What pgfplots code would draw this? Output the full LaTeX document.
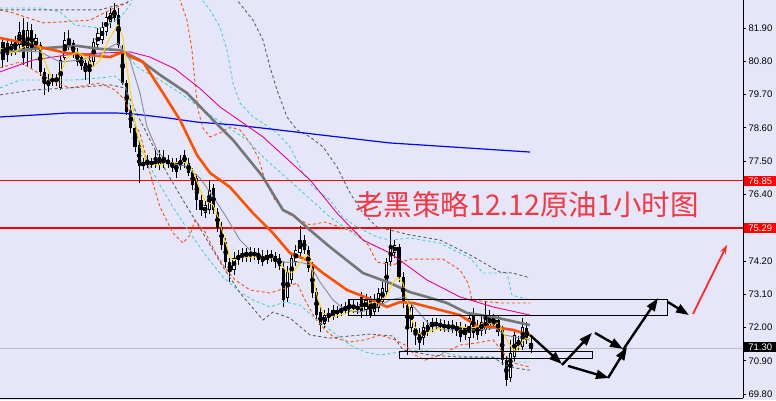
\documentclass[border=0pt]{standalone}
\usepackage{fontspec}
\setmainfont{Liberation Sans}
\newfontfamily\cjk{Noto Sans CJK SC}
\usepackage{pgfplots}
\pgfplotsset{compat=1.18}
\usepackage{pgfplotstable}
\usetikzlibrary{arrows.meta}
\definecolor{bg}{RGB}{230,230,250}
\definecolor{maorange}{RGB}{255,80,0}
\definecolor{magray}{RGB}{118,118,118}
\definecolor{mathin}{RGB}{128,140,150}
\definecolor{cyand}{RGB}{72,209,204}
\definecolor{grayd}{RGB}{95,95,95}
\definecolor{yel}{RGB}{255,215,0}
\definecolor{titlered}{RGB}{245,55,65}
\definecolor{curline}{RGB}{190,190,190}

\pgfplotstableread{
i o h l c w
0 81.44 81.57 80.58 80.84 0
1 81.40 81.50 80.78 81.01 0
2 81.11 81.50 80.97 81.37 1
3 81.50 81.64 81.01 81.17 0
4 81.34 82.10 81.17 81.77 1
5 81.83 82.23 80.68 80.91 0
6 81.24 82.10 80.64 81.83 1
7 81.83 82.03 80.58 81.17 0
8 81.24 81.70 81.11 81.57 1
9 81.34 81.44 80.31 80.45 0
10 80.45 80.58 79.69 80.05 0
11 79.98 80.38 79.78 80.18 1
12 80.12 80.38 79.98 80.25 1
13 80.25 80.38 79.98 80.15 0
14 79.92 80.97 79.85 80.84 1
15 80.91 81.77 80.84 81.50 1
16 81.50 81.83 81.17 81.31 0
17 81.40 81.50 80.91 81.04 0
18 81.11 81.24 80.64 80.78 0
19 80.94 81.04 80.51 80.64 0
20 80.74 80.84 80.18 80.45 0
21 80.45 80.97 80.05 80.84 1
22 80.78 81.57 80.64 81.44 1
23 81.34 81.90 81.17 81.73 1
24 81.50 82.10 81.37 81.93 1
25 81.77 82.43 81.64 82.26 1
26 82.10 82.56 81.90 82.40 1
27 82.50 82.73 82.10 82.23 0
28 82.33 82.56 81.24 81.34 0
29 81.17 81.34 80.02 80.08 0
30 80.08 80.18 79.02 79.12 0
31 79.19 79.36 78.43 78.59 0
32 78.59 78.69 77.80 77.97 0
33 78.03 78.20 76.78 77.34 0
34 77.34 77.60 77.20 77.47 1
35 77.54 77.70 77.27 77.37 0
36 77.37 77.60 77.27 77.50 1
37 77.54 77.87 77.27 77.40 0
38 77.37 77.87 77.20 77.64 1
39 77.60 77.87 77.27 77.44 0
40 77.40 77.70 77.27 77.54 1
41 77.47 77.60 77.14 77.27 0
42 77.44 77.60 76.94 77.14 0
43 77.34 77.70 77.20 77.54 1
44 77.70 77.87 77.27 77.44 0
45 77.44 77.60 77.01 77.11 0
46 77.14 77.27 76.54 76.71 0
47 76.94 77.07 75.88 76.21 0
48 76.21 76.38 75.69 75.88 0
49 75.78 76.21 75.62 76.05 1
50 75.88 76.88 75.75 76.54 1
51 76.61 76.74 75.75 75.88 0
52 75.82 75.95 75.16 75.29 0
53 75.32 75.49 74.56 74.73 0
54 74.83 74.96 73.97 74.16 0
55 74.16 74.30 73.50 73.83 0
56 73.90 74.50 73.73 74.30 1
57 74.23 74.56 74.07 74.40 1
58 74.30 74.63 74.16 74.46 1
59 74.50 74.63 74.16 74.36 0
60 74.36 74.66 74.16 74.50 1
61 74.50 74.63 74.23 74.36 0
62 74.46 74.63 74.10 74.23 0
63 74.36 74.56 74.03 74.16 0
64 74.23 74.56 74.10 74.40 1
65 74.43 74.56 74.16 74.30 0
66 74.36 74.50 73.97 74.16 0
67 74.30 74.43 73.90 74.03 0
68 73.97 74.16 72.68 72.91 0
69 72.97 74.03 72.84 73.83 1
70 73.57 74.43 73.44 74.30 1
71 74.16 74.73 74.03 74.56 1
72 74.46 75.36 74.30 74.89 1
73 74.89 75.06 74.43 74.56 0
74 74.56 74.69 73.83 73.97 0
75 74.00 74.16 72.97 73.14 0
76 73.17 73.30 72.25 72.41 0
77 72.51 72.71 71.85 72.08 0
78 72.11 72.58 71.98 72.41 1
79 72.31 72.64 72.18 72.48 1
80 72.35 72.74 72.25 72.58 1
81 72.58 72.71 72.31 72.45 0
82 72.48 72.78 72.38 72.64 1
83 72.54 72.84 72.45 72.71 1
84 72.61 72.91 72.51 72.74 1
85 72.74 72.91 72.48 72.61 0
86 72.71 72.84 72.45 72.58 0
87 73.01 73.17 72.31 72.51 0
88 72.58 73.11 72.41 72.91 1
89 72.91 73.04 72.31 72.41 0
90 72.51 73.11 72.38 72.84 1
91 72.64 73.30 72.51 73.14 1
92 72.84 73.50 72.71 73.30 1
93 73.17 74.30 73.04 74.16 1
94 74.16 75.29 74.03 74.69 1
95 74.46 74.89 74.30 74.73 1
96 74.66 74.76 73.50 73.67 0
97 73.67 73.83 72.64 72.81 0
98 72.74 72.91 71.09 71.98 0
99 71.98 72.84 71.85 72.68 1
100 71.98 72.18 71.42 71.78 0
101 71.82 71.98 71.26 71.49 0
102 71.65 72.18 71.42 72.02 1
103 71.85 72.25 71.72 72.08 1
104 72.02 72.31 71.85 72.18 1
105 72.18 72.31 71.92 72.05 0
106 72.15 72.28 71.88 72.02 0
107 72.11 72.25 71.85 71.98 0
108 72.08 72.21 71.85 71.98 0
109 71.95 72.25 71.82 72.08 1
110 72.05 72.18 71.72 71.92 0
111 72.02 72.18 71.52 71.69 0
112 71.75 72.11 71.59 71.98 1
113 71.65 72.45 71.32 72.31 1
114 72.48 72.64 71.65 71.82 0
115 72.08 72.25 71.59 71.75 0
116 71.88 72.38 71.72 72.18 1
117 71.92 72.84 71.78 72.31 1
118 72.02 72.58 71.92 72.41 1
119 72.31 72.45 71.98 72.08 0
120 72.25 72.38 71.72 71.85 0
121 71.92 72.05 70.76 70.92 0
122 70.92 71.06 70.07 70.26 0
123 70.33 71.59 70.20 71.16 1
124 71.02 71.92 70.86 71.75 1
125 71.39 71.72 71.26 71.59 1
126 71.35 72.31 71.26 72.02 1
127 71.98 72.18 71.45 71.59 0
128 71.49 71.65 71.16 71.30 0
}\candles

\begin{document}
\begin{tikzpicture}
\useasboundingbox (0,0) rectangle (776pt,400pt);
\fill[bg] (0,0) rectangle (776pt,400pt);
\begin{axis}[
  at={(0pt,2pt)}, anchor=south west, scale only axis,
  width=743pt, height=398pt,
  xmin=0, xmax=743, ymin=69.669, ymax=82.826,
  enlargelimits=false,
  axis x line*=bottom, axis y line*=right,
  axis line style={black, line width=0.8pt},
  xtick=\empty,
  ytick={81.90,80.80,79.70,78.60,77.50,76.40,74.20,73.10,72.00,70.90,69.80},
  tick align=outside, major tick length=3pt,
  ytick style={black, line width=0.8pt},
  scaled y ticks=false,
  yticklabel style={font=\fontsize{9.5}{11}\selectfont, text=black, xshift=-1pt},
  /pgf/number format/.cd, fixed, fixed zerofill, precision=2, assume math mode=true,
]
% horizontal levels
\addplot[red, line width=1.2pt] coordinates {(0,76.85) (743,76.85)};
\addplot[red, line width=1.2pt] coordinates {(0,75.29) (743,75.29)};
\addplot[curline, line width=0.9pt] coordinates {(0,71.30) (743,71.30)};

% candles: wicks
\addplot[black, only marks, mark=none,
  error bars/.cd, y dir=both, y explicit, error mark=none,
  error bar style={line width=1pt, black}]
  table[x expr={3+4.125*\thisrow{i}}, y expr={(\thisrow{h}+\thisrow{l})/2},
        y error expr={(\thisrow{h}-\thisrow{l})/2}] {\candles};
% bodies
\addplot[black, only marks, mark=none,
  error bars/.cd, y dir=both, y explicit, error mark=none,
  error bar style={line width=3.2pt, black}]
  table[x expr={3+4.125*\thisrow{i}}, y expr={(\thisrow{o}+\thisrow{c})/2},
        y error expr={max(abs(\thisrow{o}-\thisrow{c})/2,0.025)}] {\candles};
% white interiors
\addplot[black, only marks, mark=none,
  error bars/.cd, y dir=both, y explicit, error mark=none,
  error bar style={line width=1.4pt, white}]
  table[x expr={3+4.125*\thisrow{i}}, y expr={(\thisrow{o}+\thisrow{c})/2},
        y error expr={\thisrow{w}*max(abs(\thisrow{o}-\thisrow{c})/2-0.035,0)}] {\candles};

% bands
\addplot[maorange, line width=0.9pt, dash pattern=on 3pt off 2.5pt] coordinates {
(0,82.50)(13,82.40)(43,82.07)(60,82.10)(90,82.16)(110,82.50)(127,82.73)(140,83.32)(175,83.32)(180,82.83)(187,82.16)(192,81.17)(195,80.08)(198,79.19)(203,78.59)(210,78.30)(220,78.43)(230,78.63)(240,78.53)(250,78.10)(258,77.64)(265,76.88)(275,76.21)(290,75.72)(310,75.39)(325,75.49)(340,75.32)(357,75.12)(368,74.73)(377,74.16)(393,74.07)(410,74.26)(443,74.26)(460,73.90)(468,73.47)(472,72.91)(500,72.81)(530,72.81)};
\addplot[maorange, line width=0.9pt, dash pattern=on 3pt off 2.5pt] coordinates {
(0,80.58)(20,80.78)(50,80.18)(70,79.92)(100,80.08)(115,79.85)(125,79.52)(135,78.69)(140,78.43)(150,77.11)(160,75.98)(173,75.12)(183,74.79)(190,75.06)(195,75.55)(205,75.16)(215,74.50)(225,73.97)(235,73.57)(250,73.24)(270,73.14)(285,73.30)(297,73.47)(305,72.91)(315,72.31)(325,71.92)(335,71.65)(350,71.52)(365,71.59)(380,71.75)(395,71.59)(405,71.42)(415,71.09)(425,70.92)(440,71.09)(460,71.42)(477,71.49)(493,71.59)(505,71.09)(513,70.83)(530,70.69)};
\addplot[cyand, line width=0.9pt, dash pattern=on 3pt off 2.5pt] coordinates {
(0,82.56)(40,82.56)(60,82.43)(75,82.00)(100,81.90)(120,82.23)(130,82.66)(138,83.32)(198,83.32)(202,82.83)(210,82.50)(220,81.93)(227,81.17)(233,80.08)(240,79.42)(253,78.96)(263,78.76)(277,78.43)(290,77.97)(303,77.11)(313,76.64)(330,76.21)(343,75.65)(357,75.32)(377,74.99)(390,74.89)(410,74.96)(440,74.79)(470,74.30)(483,73.80)(507,73.80)(512,73.07)(530,72.91)};
\addplot[cyand, line width=0.9pt, dash pattern=on 3pt off 2.5pt] coordinates {
(130,80.91)(137,80.61)(160,80.18)(180,79.75)(213,78.96)(247,78.20)(263,77.64)(297,76.64)(330,75.65)(363,74.89)(390,74.46)};
\addplot[cyand, line width=0.9pt, dash pattern=on 3pt off 2.5pt] coordinates {
(0,79.92)(20,80.18)(73,80.18)(100,80.25)(115,80.31)(125,80.02)(140,77.97)(157,76.88)(173,75.98)(190,75.12)(207,74.33)(223,73.67)(240,73.17)(253,72.91)(270,72.68)(285,72.84)(300,72.74)(315,72.31)(330,71.92)(350,71.42)(365,71.19)(380,71.09)(400,71.19)(420,71.26)(440,71.19)(460,71.06)(480,71.02)(500,70.99)(515,70.86)(530,70.86)};
\addplot[grayd, line width=0.9pt, dash pattern=on 3pt off 2.5pt] coordinates {
(0,82.50)(100,82.50)(110,82.59)(127,82.73)(140,83.32)(230,83.32)(237,82.83)(253,82.16)(263,81.50)(270,80.61)(277,79.85)(287,78.96)(297,78.53)(310,78.30)(323,77.97)(337,77.31)(350,76.45)(363,75.78)(377,75.32)(390,75.22)(410,75.06)(440,74.89)(470,74.40)(500,73.83)(513,73.80)(530,73.64)};
\addplot[grayd, line width=0.9pt, dash pattern=on 3pt off 2.5pt] coordinates {
(0,79.69)(33,79.85)(83,79.95)(110,80.02)(125,79.92)(135,79.19)(150,78.20)(167,77.11)(183,76.21)(203,75.12)(223,74.00)(240,73.14)(257,72.48)(263,72.25)(273,72.51)(290,72.31)(310,71.75)(330,71.65)(350,71.72)(370,71.78)(393,71.72)(403,71.26)(430,71.09)(460,71.02)(493,71.02)(505,70.76)(515,70.66)(530,70.59)};

% moving averages
\addplot[blue, line width=1.2pt] coordinates {
(0,78.96)(33,79.02)(67,79.09)(117,79.09)(133,79.06)(167,78.93)(197,78.79)(233,78.70)(263,78.59)(330,78.33)(390,78.10)(460,77.95)(530,77.80)};
\addplot[magenta, line width=0.9pt] coordinates {
(0,80.45)(33,80.84)(67,81.01)(100,81.07)(130,81.11)(150,80.94)(175,80.55)(200,79.90)(220,79.29)(263,78.30)(310,76.88)(337,75.78)(363,74.89)(390,74.46)(427,73.57)(460,73.01)(493,72.68)(530,72.41)};
\addplot[magray, line width=2.6pt] coordinates {
(0,81.07)(33,81.21)(77,81.31)(100,81.21)(120,81.17)(140,80.84)(160,80.35)(187,79.75)(213,78.86)(233,78.20)(262,77.02)(283,75.88)(293,75.72)(310,75.22)(330,74.66)(363,73.80)(390,73.47)(410,73.17)(427,73.01)(447,72.81)(467,72.48)(493,72.35)(530,72.08)};
\addplot[maorange, line width=2.6pt] coordinates {
(0,81.57)(20,81.44)(40,81.27)(67,81.07)(87,81.01)(110,80.94)(123,81.11)(130,80.96)(143,80.78)(163,79.75)(180,78.86)(197,77.70)(210,77.11)(230,76.64)(253,75.78)(273,75.12)(290,74.46)(307,74.23)(323,73.80)(347,73.24)(370,72.94)(387,72.68)(400,72.84)(413,72.81)(433,72.64)(460,72.41)(477,72.05)(493,72.02)(513,71.92)(530,71.75)};
\addplot[mathin, line width=0.9pt] coordinates {
(0,81.17)(40,81.11)(60,80.78)(80,80.84)(100,81.01)(110,81.27)(118,81.40)(130,80.84)(140,79.75)(147,78.63)(157,77.87)(167,77.44)(185,77.34)(200,76.94)(212,76.38)(225,75.72)(240,74.89)(255,74.40)(270,74.30)(285,74.16)(300,74.16)(310,74.07)(320,73.50)(333,72.91)(345,72.58)(360,72.51)(375,72.64)(390,72.91)(405,73.01)(415,72.64)(430,72.08)(445,71.92)(460,71.92)(480,71.92)(495,71.98)(505,71.75)(520,71.65)(530,71.59)};
\addplot[yel, line width=1pt] coordinates {
(0,81.24)(13,81.07)(27,81.34)(33,81.50)(40,81.27)(47,80.61)(53,80.18)(58,80.25)(67,80.91)(77,81.11)(87,80.91)(93,80.61)(100,80.84)(110,81.60)(118,82.00)(123,81.60)(130,79.85)(137,78.43)(147,77.44)(157,77.37)(173,77.44)(180,77.47)(187,77.44)(193,77.20)(200,76.54)(205,76.21)(213,76.05)(218,75.65)(222,75.22)(227,74.66)(230,74.33)(233,74.23)(240,74.30)(250,74.33)(260,74.33)(270,74.33)(280,74.13)(287,73.83)(293,73.83)(300,74.13)(307,74.40)(310,74.30)(313,73.67)(318,72.91)(323,72.48)(330,72.35)(340,72.41)(350,72.51)(360,72.64)(370,72.81)(380,72.84)(387,73.07)(393,73.50)(398,73.64)(403,73.47)(408,72.81)(413,72.15)(418,71.82)(423,71.75)(433,71.92)(443,71.98)(450,72.02)(460,72.02)(470,71.98)(477,72.02)(483,72.15)(488,72.15)(493,72.11)(497,72.15)(502,71.92)(508,71.52)(515,71.19)(520,71.42)(525,71.65)(530,71.62)};

% boxes
\addplot[black, line width=1pt] coordinates {(348,72.91)(667,72.91)(667,72.41)(348,72.41)} -- cycle;
\addplot[black, line width=1pt] coordinates {(399,71.22)(592,71.22)(592,70.99)(399,70.99)} -- cycle;

% arrows
\addplot[black, line width=2.4pt, -{Triangle[length=13pt,width=9pt]}] coordinates {(530,71.75)(562,70.79)};
\addplot[black, line width=2.4pt, -{Triangle[length=13pt,width=9pt]}] coordinates {(562,70.76)(592,71.82)};
\addplot[black, line width=2.4pt, -{Triangle[length=13pt,width=9pt]}] coordinates {(595,71.82)(623,71.29)};
\addplot[black, line width=2.4pt, -{Triangle[length=13pt,width=9pt]}] coordinates {(568,70.73)(609,70.33)};
\addplot[black, line width=2.4pt, -{Triangle[length=13pt,width=9pt]}] coordinates {(608,70.33)(627,71.35)};
\addplot[black, line width=2.4pt, -{Triangle[length=13pt,width=9pt]}] coordinates {(623,71.26)(658,72.97)};
\addplot[black, line width=2.4pt, -{Triangle[length=13pt,width=9pt]}] coordinates {(668,72.84)(689,72.41)};
\addplot[red!85!white, line width=1.8pt, -{Stealth[length=9pt,width=6pt]}] coordinates {(693,72.45)(727,74.73)};

\node[text=titlered, font=\cjk\fontsize{28.5}{30}\selectfont] at (axis cs:527,76.05) {老黑策略12.12原油1小时图};

\coordinate (r1) at (axis cs:743,76.85);
\coordinate (r2) at (axis cs:743,75.29);
\coordinate (r3) at (axis cs:743,71.30);
\end{axis}
\node[fill=red, text=white, anchor=west, inner sep=0pt, minimum height=10pt, minimum width=32pt, font=\fontsize{9.5}{11}\selectfont] at ([xshift=1pt]r1) {76.85};
\node[fill=red, text=white, anchor=west, inner sep=0pt, minimum height=10pt, minimum width=32pt, font=\fontsize{9.5}{11}\selectfont] at ([xshift=1pt]r2) {75.29};
\node[fill=black, text=white, anchor=west, inner sep=0pt, minimum height=10pt, minimum width=32pt, font=\fontsize{9.5}{11}\selectfont] at ([xshift=1pt,yshift=1.5pt]r3) {71.30};
\end{tikzpicture}
\end{document}
